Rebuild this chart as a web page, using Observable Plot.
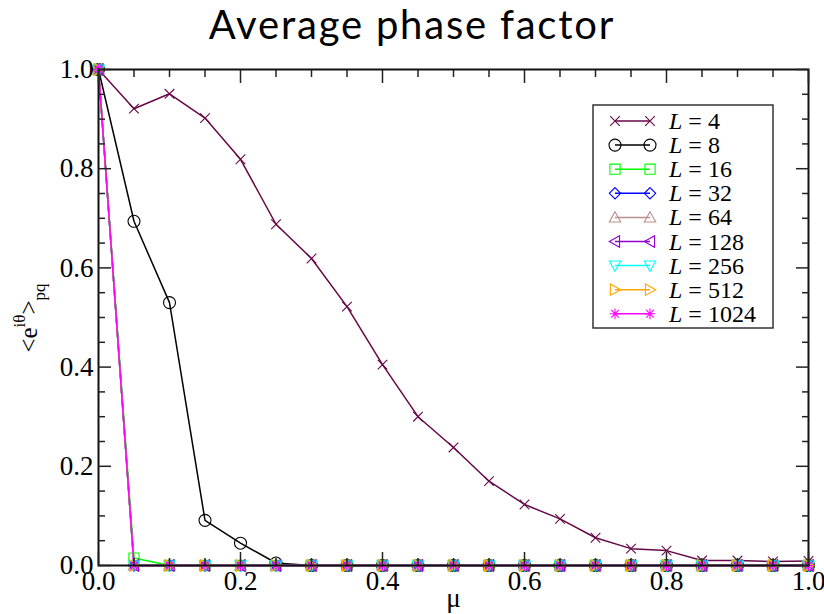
<!DOCTYPE html>
<html>
<head>
<meta charset="utf-8">
<script src="https://cdn.jsdelivr.net/npm/d3@7"></script>
<script src="https://cdn.jsdelivr.net/npm/@observablehq/plot@0.6"></script>
<style>
  body { margin: 0; background: #fff; }
  #wrap { position: relative; width: 824px; height: 614px; }
  #title { position: absolute; left: 0; top: 0; width: 824px; text-align: center;
           font-family: Lato, "Open Sans", sans-serif; font-size: 40px; line-height: normal;
           letter-spacing: 1.8px; color: #000; }
  #chart { position: absolute; left: 0; top: 0; }
</style>
</head>
<body>
<div id="wrap">
  <div id="chart"></div>
  <div id="title">Average phase factor</div>
</div>
<script>
// ---- data ----
const mu = [0, 0.05, 0.1, 0.15, 0.2, 0.25, 0.3, 0.35, 0.4, 0.45, 0.5, 0.55, 0.6, 0.65, 0.7, 0.75, 0.8, 0.85, 0.9, 0.95, 1.0];
const L4    = [1.0, 0.921, 0.951, 0.902, 0.819, 0.688, 0.619, 0.522, 0.405, 0.300, 0.238, 0.170, 0.123, 0.094, 0.056, 0.034, 0.030, 0.010, 0.010, 0.008, 0.009];
const L8    = [1.0, 0.694, 0.530, 0.091, 0.045, 0.005, 0, 0, 0, 0, 0, 0, 0, 0, 0, 0, 0, 0, 0, 0, 0];
const L16   = [1.0, 0.015, 0, 0, 0, 0, 0, 0, 0, 0, 0, 0, 0, 0, 0, 0, 0, 0, 0, 0, 0];
const L32   = [1.0, 0, 0, 0, 0, 0, 0, 0, 0, 0, 0, 0, 0, 0, 0, 0, 0, 0, 0, 0, 0];
const L64   = [1.0, 0, 0, 0, 0, 0, 0, 0, 0, 0, 0, 0, 0, 0, 0, 0, 0, 0, 0, 0, 0];
const L128  = [1.0, 0, 0, 0, 0, 0, 0, 0, 0, 0, 0, 0, 0, 0, 0, 0, 0, 0, 0, 0, 0];
const L256  = [1.0, 0, 0, 0, 0, 0, 0, 0, 0, 0, 0, 0, 0, 0, 0, 0, 0, 0, 0, 0, 0];
const L512  = [1.0, 0, 0, 0, 0, 0, 0, 0, 0, 0, 0, 0, 0, 0, 0, 0, 0, 0, 0, 0, 0];
const L1024 = [1.0, 0, 0, 0, 0, 0, 0, 0, 0, 0, 0, 0, 0, 0, 0, 0, 0, 0, 0, 0, 0];
const sizes = [4, 8, 16, 32, 64, 128, 256, 512, 1024];
const seriesValues = [L4, L8, L16, L32, L64, L128, L256, L512, L1024];
const colors = ["#670748", "#000000", "#00ff00", "#0000ff", "#bc8f8f", "#9400d3", "#00ffff", "#ffa500", "#ff00ff"];
const symbolKinds = ["times", "circle", "square", "diamond", "triUp", "triLeft", "triDown", "triRight", "asterisk"];
const xMajor = [0, 0.2, 0.4, 0.6, 0.8, 1.0];
const xMinor = [0.05, 0.1, 0.15, 0.25, 0.3, 0.35, 0.45, 0.5, 0.55, 0.65, 0.7, 0.75, 0.85, 0.9, 0.95];
const yMajor = [0, 0.2, 0.4, 0.6, 0.8, 1.0];
const yMinor = [0.05, 0.1, 0.15, 0.25, 0.3, 0.35, 0.45, 0.5, 0.55, 0.65, 0.7, 0.75, 0.85, 0.9, 0.95];

// ---- symbols ----
function mk(fn) { return { draw(ctx, size) { fn(ctx, Math.sqrt(size / Math.PI)); } }; }
const symbols = {
  times: mk((c, r) => { const s = r * 0.8; c.moveTo(-s, -s); c.lineTo(s, s); c.moveTo(-s, s); c.lineTo(s, -s); }),
  circle: mk((c, r) => { c.moveTo(r, 0); c.arc(0, 0, r, 0, 2 * Math.PI); }),
  square: mk((c, r) => { const s = r * 0.85; c.moveTo(-s, -s); c.lineTo(s, -s); c.lineTo(s, s); c.lineTo(-s, s); c.closePath(); }),
  diamond: mk((c, r) => { const s = r * 0.95; c.moveTo(0, -s); c.lineTo(s, 0); c.lineTo(0, s); c.lineTo(-s, 0); c.closePath(); }),
  triUp: mk((c, r) => { const s = r * 0.95; c.moveTo(0, -s); c.lineTo(s, 0.8 * s); c.lineTo(-s, 0.8 * s); c.closePath(); }),
  triDown: mk((c, r) => { const s = r * 0.95; c.moveTo(0, s); c.lineTo(s, -0.8 * s); c.lineTo(-s, -0.8 * s); c.closePath(); }),
  triLeft: mk((c, r) => { const s = r * 0.95; c.moveTo(-s, 0); c.lineTo(0.8 * s, -s); c.lineTo(0.8 * s, s); c.closePath(); }),
  triRight: mk((c, r) => { const s = r * 0.95; c.moveTo(s, 0); c.lineTo(-0.8 * s, -s); c.lineTo(-0.8 * s, s); c.closePath(); }),
  asterisk: mk((c, r) => { const s = r * 0.9, d = s * 0.7071;
    c.moveTo(-s, 0); c.lineTo(s, 0); c.moveTo(0, -s); c.lineTo(0, s);
    c.moveTo(-d, -d); c.lineTo(d, d); c.moveTo(-d, d); c.lineTo(d, -d); })
};

const R = 6;
const serif = "'Liberation Serif', 'Times New Roman', serif";

// ---- marks ----
const marks = [];
sizes.forEach((L, i) => {
  const data = mu.map((m, j) => ({ mu: m, v: seriesValues[i][j] }));
  marks.push(Plot.line(data, { x: "mu", y: "v", stroke: colors[i], strokeWidth: 1.5 }));
  marks.push(Plot.dot(data, { x: "mu", y: "v", symbol: symbols[symbolKinds[i]], r: R, stroke: colors[i], fill: "none", strokeWidth: 1.1 }));
});
const tickStyle = { stroke: "#222", strokeWidth: 1.5 };
marks.push(
  Plot.frame({ stroke: "#111", strokeWidth: 2 }),
  Plot.axisX(xMajor, { anchor: "bottom", tickSize: -13, tickPadding: 18, tickFormat: d => d.toFixed(1), fontSize: 27, fontFamily: serif, fill: "#000", label: null, ...tickStyle }),
  Plot.axisX(xMinor, { anchor: "bottom", tickSize: -7, tickFormat: () => "", label: null, ...tickStyle }),
  Plot.axisX(xMajor, { anchor: "top", tickSize: -13, tickFormat: () => "", label: null, ...tickStyle }),
  Plot.axisX(xMinor, { anchor: "top", tickSize: -7, tickFormat: () => "", label: null, ...tickStyle }),
  Plot.axisY(yMajor, { anchor: "left", tickSize: -13, tickPadding: 18, tickFormat: d => d.toFixed(1), fontSize: 27, fontFamily: serif, fill: "#000", label: null, ...tickStyle }),
  Plot.axisY(yMinor, { anchor: "left", tickSize: -7, tickFormat: () => "", label: null, ...tickStyle }),
  Plot.axisY(yMajor, { anchor: "right", tickSize: -13, tickFormat: () => "", label: null, ...tickStyle }),
  Plot.axisY(yMinor, { anchor: "right", tickSize: -7, tickFormat: () => "", label: null, ...tickStyle }),
  Plot.text(["μ"], { frameAnchor: "bottom", dy: 41, fontSize: 27, fontFamily: serif, fill: "#000" })
);

const svg = Plot.plot({
  width: 824,
  height: 614,
  marginLeft: 98,
  marginRight: 16,
  marginTop: 69,
  marginBottom: 49,
  style: { background: "transparent", overflow: "visible" },
  x: { domain: [0, 1] },
  y: { domain: [0, 1] },
  marks
});
document.getElementById("chart").appendChild(svg);

// ---- y-axis label with super/subscripts ----
const s = d3.select(svg);
const yl = s.append("text")
  .attr("transform", "translate(37,318) rotate(-90)")
  .attr("text-anchor", "middle")
  .attr("font-family", serif).attr("font-size", 25).attr("fill", "#000");
yl.append("tspan").text("<e");
yl.append("tspan").attr("dy", -12).attr("font-size", 17).text("iθ");
yl.append("tspan").attr("dy", 12).text(">");
yl.append("tspan").attr("dy", 8).attr("font-size", 17).text("pq");

// ---- legend ----
const lg = s.append("g");
lg.append("rect").attr("x", 593).attr("y", 105).attr("width", 180).attr("height", 223)
  .attr("fill", "#fff").attr("stroke", "#333").attr("stroke-width", 1.5);
sizes.forEach((L, i) => {
  const y = 121 + i * 24.1;
  const row = lg.append("g");
  row.append("line").attr("x1", 615).attr("x2", 650).attr("y1", y).attr("y2", y)
    .attr("stroke", colors[i]).attr("stroke-width", 1.5);
  const path = d3.symbol().type(symbols[symbolKinds[i]]).size(Math.PI * R * R)();
  [615, 650].forEach(x => row.append("path").attr("d", path).attr("transform", `translate(${x},${y})`)
    .attr("fill", "none").attr("stroke", colors[i]).attr("stroke-width", 1.1));
  const t = row.append("text").attr("x", 669).attr("y", y + 8).attr("text-anchor", "start")
    .attr("font-family", serif).attr("font-size", 24).attr("fill", "#000");
  t.append("tspan").attr("font-style", "italic").text("L");
  t.append("tspan").text(" = " + L);
});
</script>
</body>
</html>
